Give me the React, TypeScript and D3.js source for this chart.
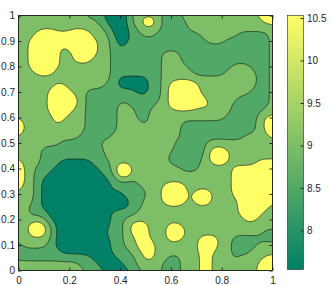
import React, { useEffect, useRef } from "react";
import * as d3 from "d3";

// field on a 41 x 41 grid (step 0.025), top row = y 1
// 1 = dark band, 3 = medium, 5 = light, 7/8/9 = yellow (higher digit = stronger peak)
const fieldRows = [
  "75555555555333111155555333555555555555777",
  "55555555555553111155995333355555555555577",
  "55555555555555311135555333355555555555555",
  "55579977799755511133553333333555555333335",
  "55777777777775531133333333333355533333335",
  "55777775777775531333333333333333333333335",
  "55777775577775533333333555333333333333335",
  "55777775577755533333333555333333333333335",
  "55777775555555533333333555533333335553335",
  "55577755555555533333333555553333355555335",
  "55555555555555531111133555555555555555335",
  "55555577555555331111133579997555555555335",
  "55555777755333333331133577777555555553335",
  "55555777775333333333333577777755555333335",
  "55555777775333335533335579997775553333335",
  "55555777755333335553355555555555553333355",
  "55555577555333335553355555555555533333577",
  "95555575555333335555355555333333333333577",
  "95555555555333335555555555333333333333577",
  "55555555553333355555555555333333333355557",
  "55555553333335555555555553333355555555555",
  "55553333333333555555555553333357755555555",
  "55553333333333555555555533333379975555555",
  "75553331111133355555555533333557755555777",
  "95533311111113359955555555333555557777777",
  "95533111111111339955555555555555557777777",
  "95531111111111133335555555555555557777777",
  "75531111111111133333555799755555557777777",
  "55531111111111111333355777757975557777777",
  "55531111111111111133555799757975555777777",
  "55331111111111111133555555555555555777775",
  "55333111111111133335555555555555555777755",
  "55555111111111133555555555555555555577555",
  "55797511111111133579755577555555555555555",
  "55797511111111333577755599755555555555533",
  "55555511111111133557755577555777553333333",
  "35555311111111133557975555555997553333555",
  "33333331111111133355775555555775553335555",
  "33333333333311113335775533555775553555577",
  "55555555553331111335555333555775555555777",
  "75555555555333111133555333555775555555777",
];

const levels = [2, 4, 6];
// position of each band on the summer colormap (dark, medium, light, yellow)
const bandT = [0, 0.32, 0.49, 1];
const xTicks = [0, 0.2, 0.4, 0.6, 0.8, 1];
const yTicks = [0, 0.1, 0.2, 0.3, 0.4, 0.5, 0.6, 0.7, 0.8, 0.9, 1];
const cbTicks = [8, 8.5, 9, 9.5, 10, 10.5];
const cbDomain = [7.54, 10.53];

const summer = (t: number) =>
  d3.rgb(255 * t, 255 * (0.5 + 0.5 * t), 102).formatHex();

const W = 332;
const H = 285;
const ink = "#262626";
const font = "'Liberation Sans', Arial, Helvetica, sans-serif";

export default function App() {
  const ref = useRef<SVGSVGElement>(null);

  useEffect(() => {
    const svg = d3.select(ref.current);
    svg.selectAll("*").remove();

    const x = d3.scaleLinear().domain([0, 1]).range([18.5, 272.5]);
    const y = d3.scaleLinear().domain([0, 1]).range([270.5, 15.5]);

    const defs = svg.append("defs");
    defs
      .append("clipPath")
      .attr("id", "plot-clip")
      .append("rect")
      .attr("x", x(0))
      .attr("y", y(1))
      .attr("width", x(1) - x(0))
      .attr("height", y(0) - y(1));

    // grid -> padded values so rings touching the frame run outside the clip
    const N = fieldRows.length;
    const P = 2;
    const n = N + 2 * P;
    const values: number[] = [];
    for (let r = 0; r < n; r++) {
      const row = fieldRows[Math.min(N - 1, Math.max(0, r - P))];
      for (let c = 0; c < n; c++) {
        const cc = Math.min(N - 1, Math.max(0, c - P));
        values.push(+row[Math.min(cc, row.length - 1)]);
      }
    }

    // finer raster for drawing: bilinear + blur, so the bands come out rounded
    const k = 5;
    const m = (n - 1) * k + 1;
    const fine = new Float64Array(m * m);
    for (let fy = 0; fy < m; fy++) {
      const v = fy / k;
      const j0 = Math.min(n - 2, Math.floor(v));
      const ty = v - j0;
      for (let fx = 0; fx < m; fx++) {
        const u = fx / k;
        const i0 = Math.min(n - 2, Math.floor(u));
        const tx = u - i0;
        const a = values[j0 * n + i0];
        const b = values[j0 * n + i0 + 1];
        const c = values[(j0 + 1) * n + i0];
        const d = values[(j0 + 1) * n + i0 + 1];
        fine[fy * m + fx] = (a * (1 - tx) + b * tx) * (1 - ty) + (c * (1 - tx) + d * tx) * ty;
      }
    }
    d3.blur2({ data: fine, width: m, height: m }, 3);
    const bands = d3.contours().size([m, m]).thresholds(levels)(Array.from(fine));

    const gx = d3.scaleLinear().domain([P * k + 0.5, (P + N - 1) * k + 0.5]).range([x(0), x(1)]);
    const gy = d3.scaleLinear().domain([P * k + 0.5, (P + N - 1) * k + 0.5]).range([y(1), y(0)]);
    const line = d3
      .line<number[]>()
      .x((p) => gx(p[0]))
      .y((p) => gy(p[1]))
      .curve(d3.curveBasisClosed);
    const pathFor = (mp: any) =>
      mp.coordinates
        .map((poly: number[][][]) =>
          poly.map((ring) => line(ring.slice(0, -1)) ?? "").join("")
        )
        .join("");

    const plot = svg.append("g").attr("clip-path", "url(#plot-clip)");
    plot
      .append("rect")
      .attr("x", x(0))
      .attr("y", y(1))
      .attr("width", x(1) - x(0))
      .attr("height", y(0) - y(1))
      .attr("fill", summer(bandT[0]));

    plot
      .selectAll("path.fill")
      .data(bands)
      .enter()
      .append("path")
      .attr("class", "fill")
      .attr("d", (d) => pathFor(d))
      .attr("fill", (d, i) => summer(bandT[i + 1]))
      .attr("fill-rule", "evenodd");

    plot
      .selectAll("path.line")
      .data(bands)
      .enter()
      .append("path")
      .attr("class", "line")
      .attr("d", (d) => pathFor(d))
      .attr("fill", "none")
      .attr("stroke", "#111")
      .attr("stroke-width", 0.6);

    // axes, ticks inside on all four sides
    const styleAxis = (g: any) => {
      g.select(".domain").remove();
      g.selectAll("line").attr("stroke", ink);
      g.selectAll("text").attr("fill", ink).style("font-family", font).style("font-size", "10px");
    };
    svg
      .append("g")
      .attr("transform", `translate(0,${y(0)})`)
      .call(d3.axisBottom(x).tickValues(xTicks).tickSize(-3).tickPadding(6).tickFormat((d) => String(d)))
      .call(styleAxis);
    svg
      .append("g")
      .attr("transform", `translate(0,${y(1)})`)
      .call(d3.axisTop(x).tickValues(xTicks).tickSize(-3).tickFormat(() => ""))
      .call(styleAxis);
    svg
      .append("g")
      .attr("transform", `translate(${x(0)},0)`)
      .call(d3.axisLeft(y).tickValues(yTicks).tickSize(-3).tickPadding(3.5).tickFormat((d) => String(d)))
      .call(styleAxis);
    svg
      .append("g")
      .attr("transform", `translate(${x(1)},0)`)
      .call(d3.axisRight(y).tickValues(yTicks).tickSize(-3).tickFormat(() => ""))
      .call(styleAxis);
    svg
      .append("rect")
      .attr("x", x(0))
      .attr("y", y(1))
      .attr("width", x(1) - x(0))
      .attr("height", y(0) - y(1))
      .attr("fill", "none")
      .attr("stroke", ink)
      .attr("stroke-width", 1);

    // colorbar
    const cb = d3.scaleLinear().domain(cbDomain).range([269.5, 15.5]);
    const grad = defs
      .append("linearGradient")
      .attr("id", "summer-grad")
      .attr("x1", 0)
      .attr("y1", 1)
      .attr("x2", 0)
      .attr("y2", 0);
    grad.append("stop").attr("offset", 0).attr("stop-color", summer(0));
    grad.append("stop").attr("offset", 1).attr("stop-color", summer(1));
    const cbx0 = 287.5;
    const cbx1 = 303.5;
    svg
      .append("rect")
      .attr("x", cbx0)
      .attr("y", cb(cbDomain[1]))
      .attr("width", cbx1 - cbx0)
      .attr("height", cb(cbDomain[0]) - cb(cbDomain[1]))
      .attr("fill", "url(#summer-grad)")
      .attr("stroke", ink)
      .attr("stroke-width", 0.6);
    svg
      .append("g")
      .attr("transform", `translate(${cbx1},0)`)
      .call(d3.axisRight(cb).tickValues(cbTicks).tickSize(-3).tickPadding(3.5).tickFormat((d) => String(d)))
      .call(styleAxis);
  }, []);

  return (
    <svg
      ref={ref}
      width={W}
      height={H}
      style={{ position: "absolute", left: 0, top: 0, background: "#fff" }}
    />
  );
}
